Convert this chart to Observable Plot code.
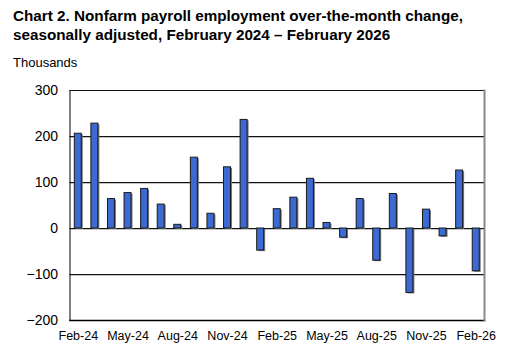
<!DOCTYPE html>
<html>
<head>
<meta charset="utf-8">
<script src="https://cdn.jsdelivr.net/npm/d3@7"></script>
<script src="https://cdn.jsdelivr.net/npm/@observablehq/plot@0.6"></script>
<style>
  body { margin: 0; background: #fff; font-family: "Liberation Sans", Arial, sans-serif; }
  #wrap { position: relative; width: 516px; height: 355px; overflow: hidden; }
  #title { position: absolute; left: 13px; top: 6px; font-weight: bold; font-size: 15.25px; line-height: 19px; color: #000; white-space: nowrap; }
  #unit { position: absolute; left: 13px; top: 55px; font-size: 13px; color: #000; }
  #chart { position: absolute; left: 0; top: 75px; }
</style>
</head>
<body>
<div id="wrap">
  <div id="title">Chart 2. Nonfarm payroll employment over-the-month change,<br>seasonally adjusted, February 2024 – February 2026</div>
  <div id="unit">Thousands</div>
  <div id="chart"></div>
</div>
<script>
const months = ["Feb-24","Mar-24","Apr-24","May-24","Jun-24","Jul-24","Aug-24","Sep-24","Oct-24","Nov-24","Dec-24","Jan-25","Feb-25","Mar-25","Apr-25","May-25","Jun-25","Jul-25","Aug-25","Sep-25","Oct-25","Nov-25","Dec-25","Jan-26","Feb-26"];
const change = [206,228,64,77,86,52,8,154,32,133,236,-48,42,67,108,12,-20,64,-70,75,-140,41,-17,126,-93];
const xTickLabels = ["Feb-24","May-24","Aug-24","Nov-24","Feb-25","May-25","Aug-25","Nov-25","Feb-26"];
const yTicks = [-200,-100,0,100,200,300];
const gridValues = [-100,0,100,200,300];

const data = months.map((m, i) => ({month: m, value: change[i]}));

const chart = Plot.plot({
  width: 516,
  height: 280,
  marginTop: 15,
  marginBottom: 35,
  marginLeft: 69.5,
  marginRight: 32,
  style: {fontFamily: "Liberation Sans, Arial, sans-serif", background: "transparent"},
  x: {domain: months, paddingInner: 0.58, paddingOuter: 0.29, round: false, axis: null, label: null},
  y: {domain: [-200, 300], axis: null, label: null},
  marks: [
    Plot.ruleY(gridValues.slice(0, 4), {stroke: "#c4c4c4", strokeWidth: 1, dy: 1}),
    Plot.ruleY(gridValues, {stroke: "#111", strokeWidth: 1}),
    Plot.barY(data, {x: "month", y: "value", fill: "#777", dx: 1.5, dy: 1}),
    Plot.barY(data, {x: "month", y: "value", fill: "#3d69d2", stroke: "#1a1a1a", strokeWidth: 1}),
    Plot.frame({anchor: "left", stroke: "#000", strokeWidth: 1}),
    Plot.frame({anchor: "bottom", stroke: "#000", strokeWidth: 1.5}),
    Plot.frame({anchor: "right", stroke: "#888", strokeWidth: 2}),
    Plot.axisY(yTicks, {tickSize: 0, tickPadding: 12, fontSize: 14, fill: "#000", anchor: "left", label: null}),
    Plot.axisX(xTickLabels, {tickSize: 0, tickPadding: 11, fontSize: 12.5, fill: "#000", anchor: "bottom", label: null})
  ]
});
document.getElementById("chart").appendChild(chart);
</script>
</body>
</html>
